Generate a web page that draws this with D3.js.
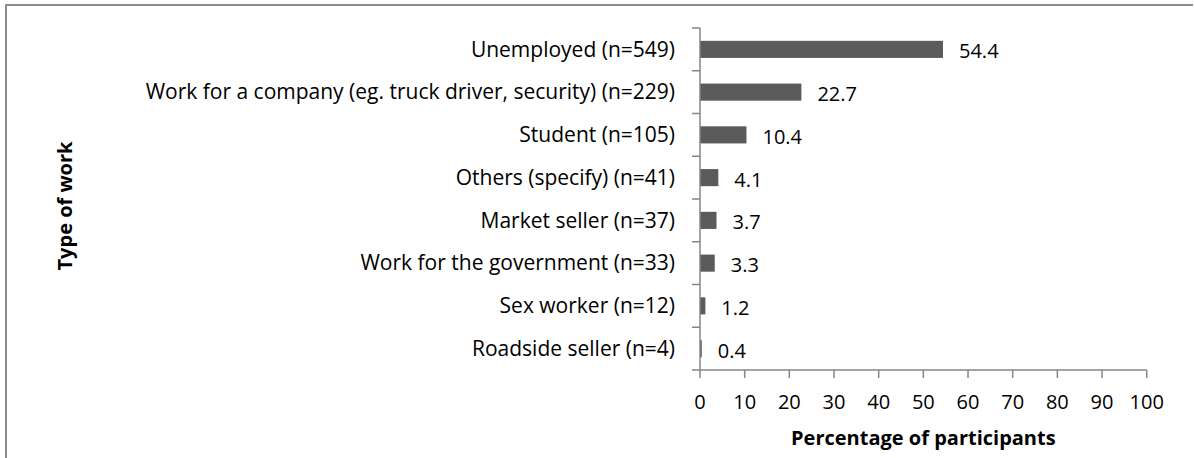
<!DOCTYPE html>
<html><head><meta charset="utf-8">
<script src="https://cdn.jsdelivr.net/npm/d3@7"></script>
<style>body{margin:0;background:#fff}svg{display:block}text{font-family:"Open Sans","Noto Sans",sans-serif}</style>
</head><body><svg id="c" width="1194" height="458"></svg>
<script>
const categories = ["Unemployed (n=549)","Work for a company (eg. truck driver, security) (n=229)","Student (n=105)","Others (specify) (n=41)","Market seller (n=37)","Work for the government (n=33)","Sex worker (n=12)","Roadside seller (n=4)"];
const values = [54.4,22.7,10.4,4.1,3.7,3.3,1.2,0.4];
const xTicks = [0,10,20,30,40,50,60,70,80,90,100];
const xTitle = "Percentage of participants";
const yTitle = "Type of work";

const svg = d3.select("#c");
const W=1194,H=458;
const m={left:700,right:W-1146.7,top:28,bottom:H-370};
const axisColor="#868686";
const fsNum=20, fsCat=21, fsTitle=20;
// border
svg.append("path").attr("d",`M6,${H} L6,5 L1193,5`).attr("fill","none").attr("stroke","#8c8c8c").attr("stroke-width",2);

const x=d3.scaleLinear().domain([0,100]).range([m.left,W-m.right]);
const y=d3.scaleBand().domain(categories).range([m.top,H-m.bottom]).paddingInner(0.6).paddingOuter(0.3);
const yb=d3.scaleBand().domain(categories).range([m.top,H-m.bottom]);

svg.selectAll("rect.bar").data(values).join("rect").attr("class","bar")
 .attr("x",x(0)).attr("y",(d,i)=>y(categories[i])).attr("width",d=>x(d)-x(0)).attr("height",y.bandwidth()).attr("fill","#5b5b5b");

// y axis
const ya=svg.append("g");
ya.append("line").attr("x1",x(0)).attr("x2",x(0)).attr("y1",m.top).attr("y2",H-m.bottom).attr("stroke",axisColor).attr("stroke-width",1.5);
const yTickPos=categories.map(c=>yb(c)).concat([H-m.bottom]);
ya.selectAll("line.t").data(yTickPos).join("line").attr("class","t").attr("x1",x(0)-8).attr("x2",x(0)).attr("y1",d=>d).attr("y2",d=>d).attr("stroke",axisColor).attr("stroke-width",1.5);
ya.selectAll("text").data(categories).join("text").attr("x",675).attr("y",c=>yb(c)+yb.bandwidth()/2).attr("dy","0.35em").attr("text-anchor","end").attr("font-size",fsCat).attr("fill","#000").text(c=>c);

// x axis
const xa=svg.append("g");
xa.append("line").attr("x1",x(0)).attr("x2",x(100)).attr("y1",H-m.bottom).attr("y2",H-m.bottom).attr("stroke",axisColor).attr("stroke-width",1.5);
xa.selectAll("line.t").data(xTicks).join("line").attr("class","t").attr("x1",d=>x(d)).attr("x2",d=>x(d)).attr("y1",H-m.bottom).attr("y2",H-m.bottom+8).attr("stroke",axisColor).attr("stroke-width",1.5);
xa.selectAll("text").data(xTicks).join("text").attr("x",d=>x(d)).attr("y",H-m.bottom+32).attr("dy","0.35em").attr("text-anchor","middle").attr("font-size",fsNum).text(d=>d);

// value labels
svg.selectAll("text.v").data(values).join("text").attr("class","v").attr("x",d=>x(d)+16).attr("y",(d,i)=>yb(categories[i])+yb.bandwidth()/2+2).attr("dy","0.35em").attr("font-size",fsNum).text(d=>d.toFixed(1));

svg.append("text").attr("x",(x(0)+x(100))/2).attr("y",438).attr("dy","0.35em").attr("text-anchor","middle").attr("font-size",fsTitle).attr("font-weight","bold").text(xTitle);
svg.append("text").attr("transform",`translate(65,206) rotate(-90)`).attr("dy","0.35em").attr("text-anchor","middle").attr("font-size",fsTitle).attr("font-weight","bold").text(yTitle);
</script></body></html>
